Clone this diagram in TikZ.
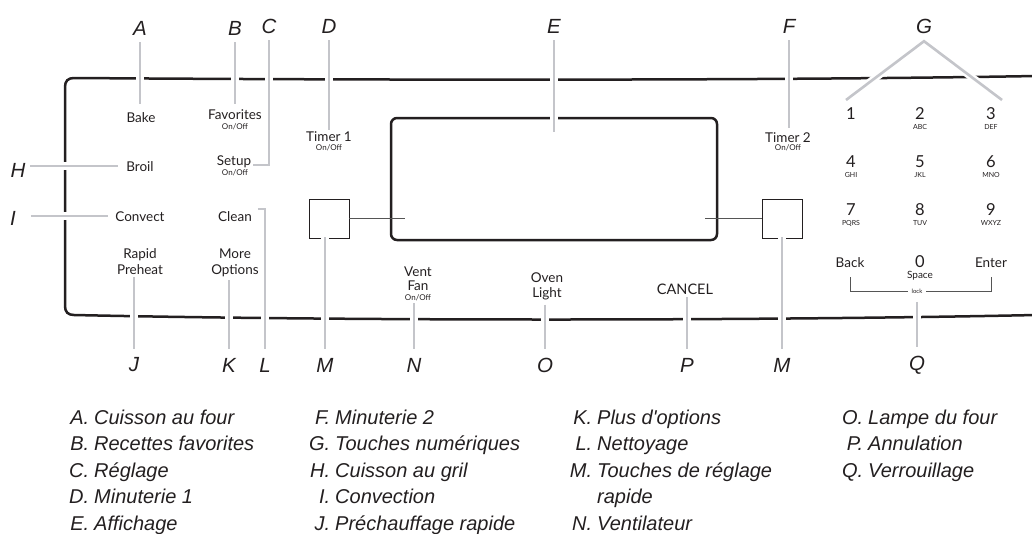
\documentclass[tikz,border=0pt]{standalone}
\usepackage{fontspec}
\setmainfont{Lato}
\newfontfamily\arialfont{Liberation Sans}
\usetikzlibrary{positioning}

\definecolor{ink}{RGB}{35,31,32}
\definecolor{leadgrey}{RGB}{196,197,202}
\definecolor{keygrey}{RGB}{85,85,85}

\begin{document}
\begin{tikzpicture}[x=1pt,y=1pt,yscale=-1,
	panel/.style={draw=ink,line width=2.5pt},
	leader/.style={draw=leadgrey,line width=2.6pt,preaction={draw=white,line width=7.5pt}},
	keyline/.style={draw=keygrey,line width=0.9pt},
	tag/.style={font=\arialfont\itshape\fontsize{20.5}{20.5}\selectfont,text=ink,inner sep=0.75pt},
	btn/.style={font=\fontsize{13.5}{13.5}\selectfont,text=ink,anchor=base,inner sep=2pt},
	onoff/.style={font=\fontsize{8}{8}\selectfont,text=ink,anchor=base,inner sep=1pt},
	keydigit/.style={font=\fontsize{16.5}{16.5}\selectfont,text=ink,anchor=base,inner sep=1pt},
	keysub/.style={font=\fontsize{7}{7}\selectfont,text=ink,anchor=base,inner sep=1pt},
	quickkey/.style={draw=ink,line width=0.9pt,minimum width=40pt,minimum height=39pt,inner sep=0pt},
	legitem/.style={font=\arialfont\itshape\fontsize{20}{20}\selectfont,text=ink,anchor=base west,inner sep=0pt},
	]
	\useasboundingbox (0,0) rectangle (1032,533);
	
	%Shape: Panel outline
	\draw[panel] (1036,76) .. controls (750,81) and (350,80) .. (74,78) .. controls (68,78) and (65,81) .. (65,87) -- (65,306) .. controls (65,312) and (68,315) .. (74,315) .. controls (350,321) and (750,321) .. (1036,315) ;
	%Shape: Display
	\node[draw=ink,line width=2.5pt,rounded corners=6pt,minimum width=326pt,minimum height=122pt,inner sep=0pt] (disp) at (554,179) {};
	\coordinate (eEnd) at (554,132);
	%Shape: Quick set keys
	\node[quickkey] (sqL) at (329,218.5) {};
	\node[quickkey] (sqR) at (782,218.5) {};
	\coordinate (sqLend) at (405,218.5);
	\coordinate (sqRend) at (705,218.5);
	\draw[keyline] (sqL.east) -- (sqLend);
	\draw[keyline] (sqR.west) -- (sqRend);
	
	% Text Node
	\node[btn] (bake) at (141,122) {Bake};
	\node[btn] (fav) at (235,119) {Favorites};
	\node[onoff] (favon) at (235,129) {On/Off};
	\node[btn] (setup) at (234,165) {Setup};
	\node[onoff] (setupon) at (235,175) {On/Off};
	\node[btn] (timerA) at (329,141) {Timer 1};
	\node[onoff] (timerAon) at (329,150) {On/Off};
	\node[btn] (broil) at (140,171) {Broil};
	\node[btn] (convect) at (140,221) {Convect};
	\node[btn] (clean) at (235,221) {Clean};
	\node[btn] (rapid) at (140,258) {Rapid};
	\node[btn] (preheat) at (140,274) {Preheat};
	\node[btn] (more) at (235,258) {More};
	\node[btn] (options) at (235,274) {Options};
	\node[btn] (vent) at (418,276) {Vent};
	\node[btn] (fan) at (418,290) {Fan};
	\node[onoff] (venton) at (418,300) {On/Off};
	\node[btn] (oven) at (547,282) {Oven};
	\node[btn] (light) at (547,297) {Light};
	\node[btn,font=\fontsize{14.5}{14.5}\selectfont] (cancel) at (685,294) {CANCEL};
	\node[btn] (timerB) at (788,142) {Timer 2};
	\node[onoff] (timerBon) at (788,150) {On/Off};
	
	% Keypad
	\foreach \d/\s/\x/\y in {1//851/119,2/ABC/920/119,3/DEF/991/119,4/GHI/851/167,5/JKL/920/167,6/MNO/991/167,7/PQRS/851/215,8/TUV/920/215,9/WXYZ/991/215}{
		\node[keydigit] (k\d) at (\x,\y) {\d};
		\node[keysub] (s\d) at (\x,\y+10) {\s};
	}
	\node[btn] (back) at (850,267) {Back};
	\node[keydigit] (k0) at (920,267) {0};
	\node[keysub,font=\fontsize{10}{10}\selectfont] (space) at (920,278.5) {Space};
	\node[btn] (enter) at (991,267) {Enter};
	\node[font=\fontsize{6}{6}\selectfont,text=ink,inner sep=3.5pt] (lock) at (917,291) {lock};
	\draw[keyline,shorten <=8pt] (back.south) |- (lock.west);
	\draw[keyline,shorten <=8pt] (enter.south) |- (lock.east);
	
	% Letter tags
	\node[tag] (lA) at (140,28) {A};
	\node[tag] (lB) at (235,28) {B};
	\node[tag] (lC) at (269,26) {C};
	\node[tag] (lD) at (329,26) {D};
	\node[tag] (lE) at (554,26) {E};
	\node[tag] (lF) at (789,26) {F};
	\node[tag] (lG) at (924,26) {G};
	\node[tag] (lH) at (18,170) {H};
	\node[tag] (lI) at (13,218) {I};
	\node[tag] (lJ) at (134,365) {J};
	\node[tag] (lK) at (229,365) {K};
	\node[tag] (lL) at (265,365) {L};
	\node[tag] (lM) at (325,365) {M};
	\node[tag] (lN) at (414,365) {N};
	\node[tag] (lO) at (545,365) {O};
	\node[tag] (lP) at (687,365) {P};
	\node[tag] (lMb) at (782,365) {M};
	\node[tag] (lQ) at (917,365) {Q};
	\coordinate[below=7pt of lG] (gTop);
	\coordinate (gL) at (846,100);
	\coordinate (gR) at (1002,100);
	
	%Straight Lines: leaders
	\draw[leader,shorten <=6pt,shorten >=6pt] (lA.south) -- (lA |- bake.north);
	\draw[leader,shorten <=6pt,shorten >=3pt] (lB.south) -- (lB |- fav.north);
	\draw[leader,shorten <=6pt] (lC.south) |- (setup.base east);
	\draw[leader,shorten <=6pt,shorten >=-1pt] (lD.south) -- (lD |- timerA.north);
	\draw[leader,shorten <=6pt] (lE.south) -- (eEnd);
	\draw[leader,shorten <=6pt,shorten >=2pt] (lF.south) -- (lF |- timerB.north);
	\draw[leader] (gL) -- (gTop) -- (gR);
	\draw[leader,shorten <=4pt,shorten >=6pt] (lH.east |- broil.west) -- (broil.west);
	\draw[leader,shorten <=14pt,shorten >=5.5pt] (lI.east |- convect.west) -- (convect.west);
	\draw[leader,shorten <=3pt,shorten >=8pt] (lJ |- preheat.base) -- (lJ.north);
	\draw[leader,shorten <=1.5pt,shorten >=8pt] (lK |- options.south) -- (lK.north);
	\draw[leader,shorten <=4pt,shorten >=8pt] (clean.north east) -| (lL.north);
	\draw[leader,shorten <=-1pt,shorten >=8pt] (lM |- sqL.south) -- (lM.north);
	\draw[leader,shorten <=1.5pt,shorten >=8pt] (lN |- venton.south) -- (lN.north);
	\draw[leader,shorten <=3pt,shorten >=8pt] (lO |- light.south) -- (lO.north);
	\draw[leader,shorten <=1pt,shorten >=8pt] (lP |- cancel.south) -- (lP.north);
	\draw[leader,shorten <=-1pt,shorten >=8pt] (lMb |- sqR.south) -- (lMb.north);
	\draw[leader,shorten <=5pt,shorten >=8pt] (lQ |- lock.south) -- (lQ.north);
	
	% Legend
	\node[legitem] (legA) at (64,424) {\makebox[25pt][r]{A.}\hspace{5pt}Cuisson au four};
	\node[legitem] (legB) at (64,450.5) {\makebox[25pt][r]{B.}\hspace{5pt}Recettes favorites};
	\node[legitem] (legC) at (64,477) {\makebox[25pt][r]{C.}\hspace{5pt}Réglage};
	\node[legitem] (legD) at (64,503.5) {\makebox[25pt][r]{D.}\hspace{5pt}Minuterie 1};
	\node[legitem] (legE) at (64,530) {\makebox[25pt][r]{E.}\hspace{5pt}Affichage};
	\node[legitem] (legF) at (305,424) {\makebox[25pt][r]{F.}\hspace{5pt}Minuterie 2};
	\node[legitem] (legG) at (305,450.5) {\makebox[25pt][r]{G.}\hspace{5pt}Touches numériques};
	\node[legitem] (legH) at (305,477) {\makebox[25pt][r]{H.}\hspace{5pt}Cuisson au gril};
	\node[legitem] (legI) at (305,503.5) {\makebox[25pt][r]{I.}\hspace{5pt}Convection};
	\node[legitem] (legJ) at (305,530) {\makebox[25pt][r]{J.}\hspace{5pt}Préchauffage rapide};
	\node[legitem] (legK) at (567,424) {\makebox[25pt][r]{K.}\hspace{5pt}Plus d'options};
	\node[legitem] (legL) at (567,450.5) {\makebox[25pt][r]{L.}\hspace{5pt}Nettoyage};
	\node[legitem] (legM) at (567,477) {\makebox[25pt][r]{M.}\hspace{5pt}Touches de réglage};
	\node[legitem] (legMb) at (597,503.5) {rapide};
	\node[legitem] (legN) at (567,530) {\makebox[25pt][r]{N.}\hspace{5pt}Ventilateur};
	\node[legitem] (legO) at (838,424) {\makebox[25pt][r]{O.}\hspace{5pt}Lampe du four};
	\node[legitem] (legP) at (838,450.5) {\makebox[25pt][r]{P.}\hspace{5pt}Annulation};
	\node[legitem] (legQ) at (838,477) {\makebox[25pt][r]{Q.}\hspace{5pt}Verrouillage};
\end{tikzpicture}
\end{document}
